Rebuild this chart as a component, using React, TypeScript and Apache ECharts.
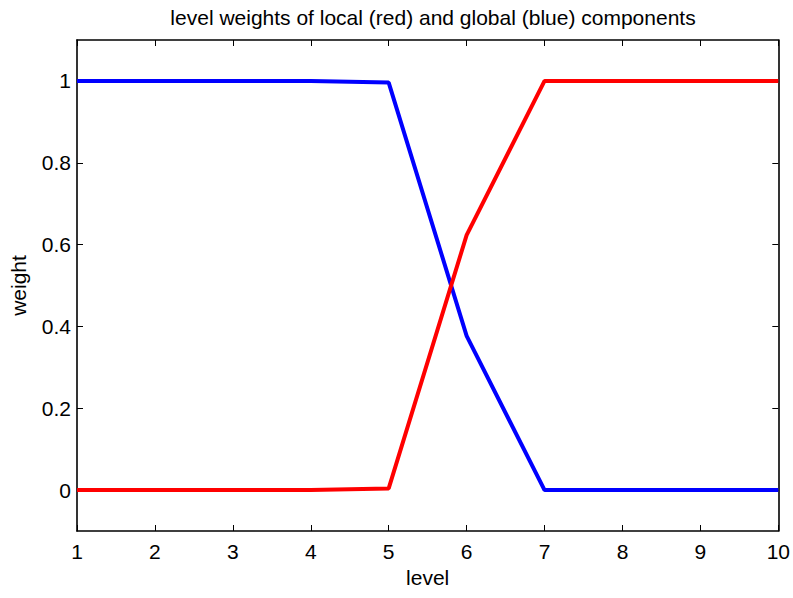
import React, { useEffect, useRef } from "react";
import * as echarts from "echarts";

const levels = [1, 2, 3, 4, 5, 6, 7, 8, 9, 10];
const globalWeights = [1, 1, 1, 0.9995, 0.996, 0.377, 0, 0, 0, 0];
const localWeights = [0, 0, 0, 0.0005, 0.004, 0.623, 1, 1, 1, 1];
const xTicks = [1, 2, 3, 4, 5, 6, 7, 8, 9, 10];
const yTicks = [0, 0.2, 0.4, 0.6, 0.8, 1];

const FONT = "Liberation Sans, Arial, Helvetica, sans-serif";
const FS = 21;

export default function App() {
  const ref = useRef<HTMLDivElement>(null);
  useEffect(() => {
    if (!ref.current) return;
    const chart = echarts.init(ref.current, null, { renderer: "svg" });
    const axisLine = { show: true, onZero: false, lineStyle: { color: "#000", width: 1.6 } };
    const tick = { show: true, inside: true, length: 6, lineStyle: { color: "#000", width: 1 } };
    chart.setOption({
      animation: false,
      backgroundColor: "#fff",
      title: {
        text: "level weights of local (red) and global (blue) components",
        left: 428,
        textAlign: "center",
        top: 2,
        textStyle: { fontFamily: FONT, fontSize: FS, fontWeight: "normal", color: "#000" },
      },
      grid: { left: 76, top: 40, right: 12, bottom: 67 },
      xAxis: [
        {
          type: "value",
          min: 1,
          max: 10,
          interval: 1,
          name: "level",
          nameLocation: "middle",
          nameGap: 34,
          nameTextStyle: { fontFamily: FONT, fontSize: FS, color: "#000" },
          axisLine,
          axisTick: tick,
          splitLine: { show: false },
          axisLabel: {
            fontFamily: FONT,
            fontSize: FS,
            color: "#000",
            margin: 10,
            formatter: (v: number) => (xTicks.includes(v) ? String(v) : ""),
          },
        },
        {
          type: "value",
          position: "top",
          min: 1,
          max: 10,
          interval: 1,
          axisLine,
          axisTick: tick,
          splitLine: { show: false },
          axisLabel: { show: false },
        },
      ],
      yAxis: [
        {
          type: "value",
          min: -0.1,
          max: 1.1,
          name: "weight",
          nameLocation: "middle",
          nameGap: 48,
          nameTextStyle: { fontFamily: FONT, fontSize: FS, color: "#000" },
          axisLine,
          axisTick: { ...tick, customValues: yTicks },
          splitLine: { show: false },
          axisLabel: {
            fontFamily: FONT,
            fontSize: FS,
            color: "#000",
            margin: 6,
            customValues: yTicks,
            formatter: (v: number) => String(Math.round(v * 10) / 10),
          },
        },
        {
          type: "value",
          position: "right",
          min: -0.1,
          max: 1.1,
          axisLine,
          axisTick: { ...tick, customValues: yTicks },
          splitLine: { show: false },
          axisLabel: { show: false },
        },
      ],
      series: [
        {
          type: "line",
          data: levels.map((l, i) => [l, globalWeights[i]]),
          showSymbol: false,
          symbol: "none",
          lineStyle: { color: "#0000ff", width: 4 },
          z: 2,
        },
        {
          type: "line",
          data: levels.map((l, i) => [l, localWeights[i]]),
          showSymbol: false,
          symbol: "none",
          lineStyle: { color: "#ff0000", width: 4 },
          z: 3,
        },
      ],
    });
    return () => chart.dispose();
  }, []);
  return (
    <div
      ref={ref}
      style={{ position: "fixed", left: 0, top: 0, width: 793, height: 598 }}
    />
  );
}
